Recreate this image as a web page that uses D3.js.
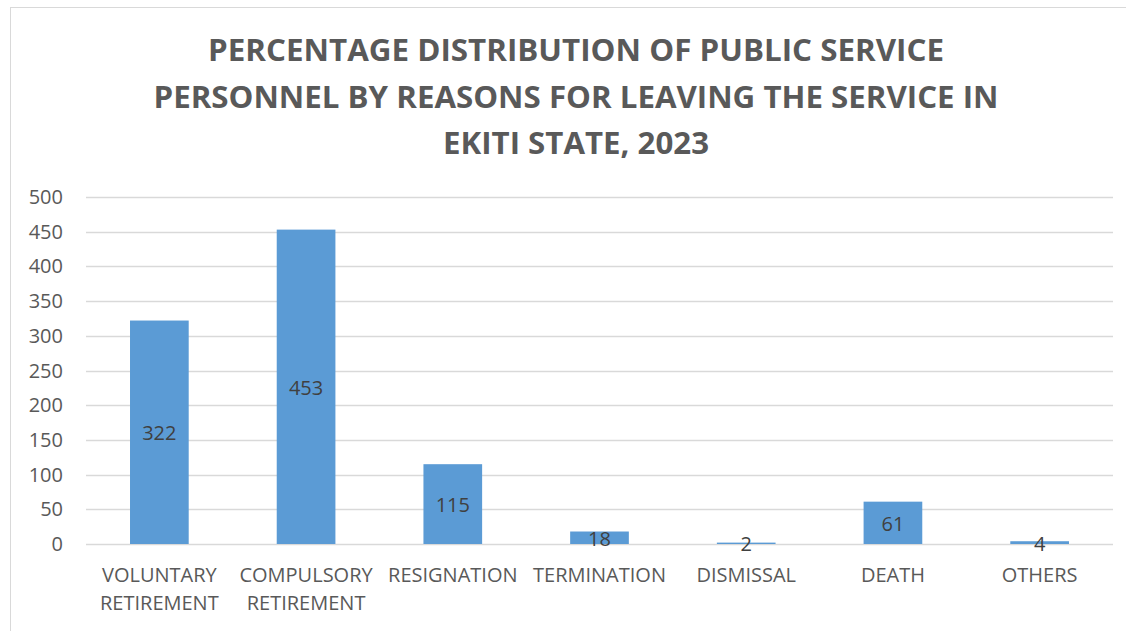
<!DOCTYPE html>
<html>
<head>
<meta charset="utf-8">
<script src="https://cdn.jsdelivr.net/npm/d3@7"></script>
<style>
  html, body { margin: 0; padding: 0; background: #fff; }
  svg { display: block; }
</style>
</head>
<body>
<svg id="graph"></svg>
<script>
var width = 1126, height = 631;

// chart data
var categories = [["VOLUNTARY", "RETIREMENT"], ["COMPULSORY", "RETIREMENT"], ["RESIGNATION"],
                  ["TERMINATION"], ["DISMISSAL"], ["DEATH"], ["OTHERS"]];
var values = [322, 453, 115, 18, 2, 61, 4];
var yTicks = [0, 50, 100, 150, 200, 250, 300, 350, 400, 450, 500];
var titleLines = ["PERCENTAGE DISTRIBUTION OF PUBLIC SERVICE",
                  "PERSONNEL BY REASONS FOR LEAVING THE SERVICE IN",
                  "EKITI STATE, 2023"];

var textColor = "#595959";
var barColor = "#5b9bd5";
var gridColor = "#d9d9d9";
var font = "'Open Sans', sans-serif";
var titleFont = "'Open Sans', sans-serif";

var svg = d3.select("#graph")
    .attr("width", width)
    .attr("height", height);

// chart area border (only left and top visible in the crop)
svg.append("rect")
    .attr("x", 10.5)
    .attr("y", 7.5)
    .attr("width", width + 20)
    .attr("height", height + 20)
    .attr("fill", "#fff")
    .attr("stroke", "#d9d9d9")
    .attr("stroke-width", 1);

// title
var titleY = [61, 108, 154];
var titleW = [736, 845, 266];
svg.selectAll(".title")
    .data(titleLines)
    .enter()
    .append("text")
    .attr("class", "title")
    .attr("x", 576)
    .attr("y", (d, i) => titleY[i])
    .attr("text-anchor", "middle")
    .attr("font-family", titleFont)
    .attr("font-size", "30px")
    .attr("font-weight", "bold")
    .attr("fill", textColor)
    .attr("textLength", (d, i) => titleW[i])
    .attr("lengthAdjust", "spacingAndGlyphs")
    .text(d => d);

var margin = {left: 86, right: 13, top: 197, bottom: 87};
var x = d3.scaleBand()
    .domain(d3.range(categories.length))
    .range([margin.left, width - margin.right])
    .paddingInner(0.6)
    .paddingOuter(0.3);
var y = d3.scaleLinear()
    .domain([0, 500])
    .range([height - margin.bottom, margin.top]);

// gridlines
svg.append("g")
    .selectAll("line")
    .data(yTicks)
    .enter()
    .append("line")
    .attr("x1", margin.left)
    .attr("x2", width - margin.right)
    .attr("y1", d => Math.round(y(d)) + 0.5)
    .attr("y2", d => Math.round(y(d)) + 0.5)
    .attr("stroke", gridColor)
    .attr("stroke-width", 1.5);

// y tick labels
svg.append("g")
    .selectAll("text")
    .data(yTicks)
    .enter()
    .append("text")
    .attr("x", 63)
    .attr("y", d => y(d))
    .attr("dy", "0.35em")
    .attr("text-anchor", "end")
    .attr("font-family", font)
    .attr("font-size", "20px")
    .attr("fill", textColor)
    .text(d => d);

// bars
svg.append("g")
    .selectAll("rect")
    .data(values)
    .enter()
    .append("rect")
    .attr("x", (d, i) => x(i))
    .attr("y", d => y(d))
    .attr("width", x.bandwidth())
    .attr("height", d => y(0) - y(d))
    .attr("fill", barColor);

// value labels (centered in the bar)
svg.append("g")
    .selectAll("text")
    .data(values)
    .enter()
    .append("text")
    .attr("x", (d, i) => x(i) + x.bandwidth() / 2)
    .attr("y", d => (y(d) + y(0)) / 2 + 1)
    .attr("dy", "0.35em")
    .attr("text-anchor", "middle")
    .attr("font-family", font)
    .attr("font-size", "20px")
    .attr("fill", "#404040")
    .text(d => d);

// category labels
var catG = svg.append("g")
    .selectAll("text")
    .data(categories)
    .enter()
    .append("text")
    .attr("x", (d, i) => x(i) + x.bandwidth() / 2)
    .attr("y", 575)
    .attr("text-anchor", "middle")
    .attr("font-family", font)
    .attr("font-size", "20px")
    .attr("fill", textColor);
catG.selectAll("tspan")
    .data(d => d)
    .enter()
    .append("tspan")
    .attr("x", function () { return d3.select(this.parentNode).attr("x"); })
    .attr("dy", (d, i) => i == 0 ? "0.35em" : "28px")
    .text(d => d);
</script>
</body>
</html>
